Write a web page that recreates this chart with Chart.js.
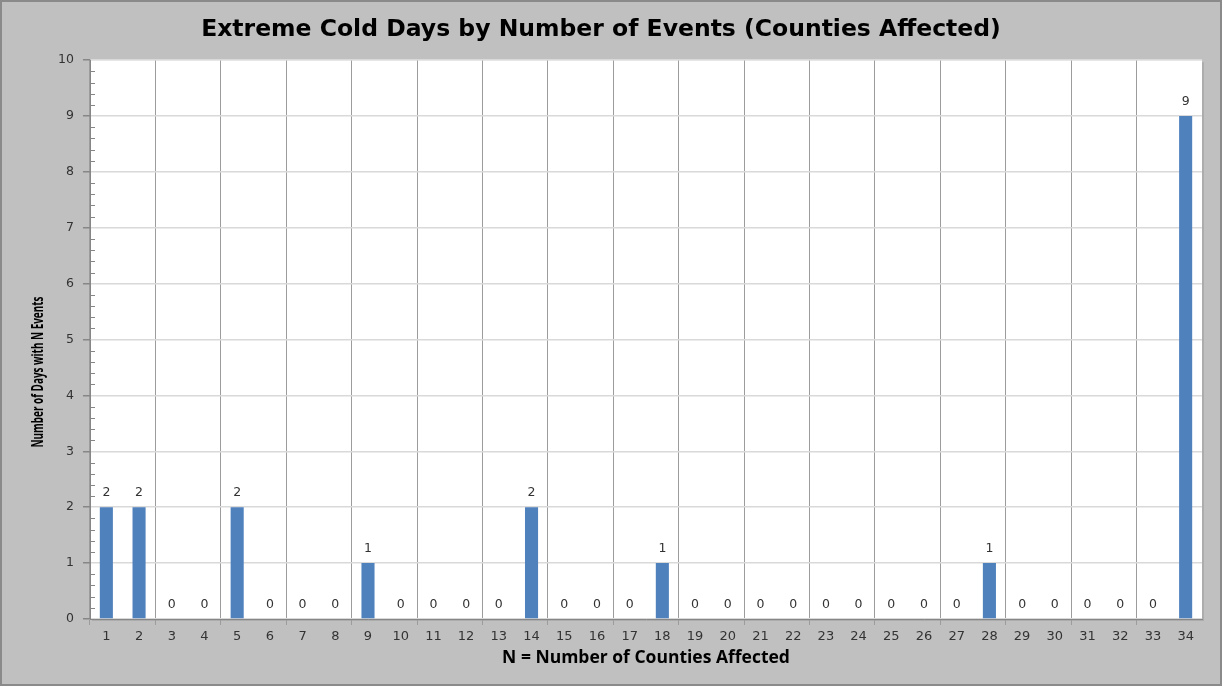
<!DOCTYPE html>
<html>
<head>
<meta charset="utf-8">
<title>Extreme Cold Days by Number of Events</title>
<script src="https://cdn.jsdelivr.net/npm/chart.js@4/dist/chart.umd.min.js"></script>
<style>
  html, body { margin: 0; padding: 0; background: #c0c0c0; }
  #wrap { width: 1222px; height: 686px; }
</style>
</head>
<body>
<div id="wrap"><canvas id="coldChart" width="1222" height="686"></canvas></div>
<script>
// --- data ---
var counties = ['1', '2', '3', '4', '5', '6', '7', '8', '9', '10', '11', '12',
    '13', '14', '15', '16', '17', '18', '19', '20', '21', '22', '23', '24',
    '25', '26', '27', '28', '29', '30', '31', '32', '33', '34'];
var daysWithEvents = [2, 2, 0, 0, 2, 0, 0, 0, 1, 0, 0, 0, 0, 2, 0, 0, 0, 1,
    0, 0, 0, 0, 0, 0, 0, 0, 0, 1, 0, 0, 0, 0, 0, 9];
var yMin = 0;
var yMax = 10;
var yTitle = 'Number of Days with N Events';

var FONT = "'Open Sans', 'DejaVu Sans', sans-serif";
var WIDE = "'DejaVu Sans', sans-serif";

// background, border and white plot area with a soft shadow
var frame = {
    id: 'frame',
    beforeDraw: function (chart) {
        var ctx = chart.ctx, a = chart.chartArea;
        ctx.save();
        ctx.fillStyle = '#c0c0c0';
        ctx.fillRect(0, 0, chart.width, chart.height);
        ctx.strokeStyle = '#8a8a8a';
        ctx.lineWidth = 2;
        ctx.strokeRect(1, 1, chart.width - 2, chart.height - 2);
        ctx.fillStyle = 'rgba(0,0,0,0.1)';
        ctx.fillRect(a.left + 2, a.top + 2, a.right - a.left, a.bottom - a.top);
        ctx.fillStyle = '#ffffff';
        ctx.fillRect(a.left, a.top, a.right - a.left, a.bottom - a.top);
        ctx.restore();
    }
};

// minor ticks on the value axis (inside the plot) + condensed y title
var valueAxisExtras = {
    id: 'valueAxisExtras',
    afterDraw: function (chart) {
        var ctx = chart.ctx, y = chart.scales.y, left = chart.chartArea.left;
        ctx.save();
        ctx.strokeStyle = '#868686';
        ctx.lineWidth = 1;
        for (var k = yMin * 5; k <= yMax * 5; k++) {
            if (k % 5 === 0) continue;
            var py = Math.round(y.getPixelForValue(k / 5)) + 0.5;
            ctx.beginPath();
            ctx.moveTo(left, py);
            ctx.lineTo(left + 5, py);
            ctx.stroke();
        }
        // axis title, squeezed along its length like the original
        ctx.translate(38, 372);
        ctx.rotate(-Math.PI / 2);
        ctx.scale(0.62, 1);
        ctx.font = 'bold 16px ' + FONT;
        ctx.fillStyle = '#000000';
        ctx.textAlign = 'center';
        ctx.textBaseline = 'middle';
        ctx.fillText(yTitle, 0, 0);
        ctx.restore();
    }
};

// value labels above each bar
var barLabels = {
    id: 'barLabels',
    afterDatasetsDraw: function (chart) {
        var ctx = chart.ctx;
        var meta = chart.getDatasetMeta(0);
        ctx.save();
        ctx.font = '12.5px ' + WIDE;
        ctx.fillStyle = '#333333';
        ctx.textAlign = 'center';
        ctx.textBaseline = 'middle';
        meta.data.forEach(function (bar, i) {
            ctx.fillText(String(daysWithEvents[i]), bar.x, bar.y - 14);
        });
        ctx.restore();
    }
};

var everyOther = function (c) {
    return c.index % 2 === 0 ? '#9c9c9c' : 'rgba(0,0,0,0)';
};

new Chart(document.getElementById('coldChart'), {
    type: 'bar',
    data: {
        labels: counties,
        datasets: [{
            data: daysWithEvents,
            backgroundColor: '#4f81bd',
            borderWidth: 0,
            barPercentage: 0.4,
            categoryPercentage: 1.0
        }]
    },
    options: {
        responsive: false,
        animation: false,
        layout: { padding: { top: 0, right: 20, bottom: 0, left: 0 } },
        plugins: {
            legend: { display: false },
            tooltip: { enabled: false },
            title: {
                display: true,
                text: 'Extreme Cold Days by Number of Events (Counties Affected)',
                color: '#000000',
                font: { family: WIDE, size: 23.5, weight: 'bold' },
                padding: { top: 15.5, bottom: 16.5 }
            }
        },
        scales: {
            x: {
                grid: {
                    color: everyOther,
                    tickColor: everyOther,
                    tickLength: 6,
                    offset: true
                },
                border: { color: '#868686' },
                ticks: {
                    color: '#333333',
                    font: { family: WIDE, size: 13 },
                    padding: 4,
                    maxRotation: 0,
                    autoSkip: false
                },
                title: {
                    display: true,
                    text: 'N = Number of Counties Affected',
                    color: '#000000',
                    font: { family: FONT, size: 17.5, weight: 'bold' },
                    padding: { top: 0, bottom: 17 }
                },
                afterFit: function (scale) { scale.height = 67; }
            },
            y: {
                min: yMin,
                max: yMax,
                grid: {
                    color: '#d9d9d9',
                    lineWidth: 1.5,
                    tickColor: '#868686',
                    tickLength: 7
                },
                border: { color: '#868686' },
                ticks: {
                    stepSize: 1,
                    color: '#333333',
                    font: { family: WIDE, size: 12.5 },
                    padding: 9
                },
                title: { display: false },
                afterFit: function (scale) { scale.width = 90; }
            }
        }
    },
    plugins: [frame, valueAxisExtras, barLabels]
});
</script>
</body>
</html>
